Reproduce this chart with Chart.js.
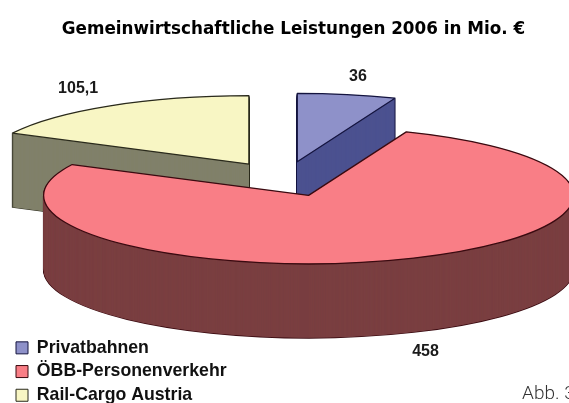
<!DOCTYPE html>
<html><head><meta charset="utf-8">
<style>html,body{margin:0;padding:0;background:#fff;overflow:hidden}#w{width:569px;height:403px;position:relative}</style>
<script src="https://cdn.jsdelivr.net/npm/chart.js@4/dist/chart.umd.min.js"></script>
</head><body><div id="w"><canvas id="c" width="569" height="403"></canvas></div>
<script>
const titleText = 'Gemeinwirtschaftliche Leistungen 2006 in Mio. €';
const categories = ['Privatbahnen', 'ÖBB-Personenverkehr', 'Rail-Cargo Austria'];
const values = [36, 458, 105.1];
const valueLabels = ['36', '458', '105,1'];
const topColors = ['#8E91C9', '#F97E86', '#F8F6C4'];
const sideColors = ['#4C5290', '#7A3F41', '#80806A'];
const edgeColors = ['#14143F', '#3A0A10', '#2A2A1C'];
const footnote = 'Abb. 3';

const pie3d = {
  id: 'pie3d',
  beforeDraw(chart) {
    const l = chart.legend;
    l.left = 10; l.top = 333; l.bottom = 460;
  },
  beforeDatasetDraw(chart, args) {
    const ctx = chart.ctx, arcs = chart.getDatasetMeta(0).data;
    const R = 265, K = 0.258, CX = 284.5, CY = 179, D = 68, DEPTH = 74;
    const sx = R / arcs[0].outerRadius, sy = sx * K;
    const drawOrder = [0, 2, 1];
    const project = (a, dy) => {
      ctx.translate(CX - a.x * sx, CY + dy - a.y * sy);
      ctx.scale(sx, sy);
      const mid = (a.startAngle + a.endAngle) / 2;
      ctx.translate(Math.cos(mid) * D / sx, Math.sin(mid) * D / sx);
    };
    const strokeArc = (a, dy, color, w) => {
      ctx.save(); project(a, dy);
      ctx.beginPath(); ctx.moveTo(a.x, a.y);
      ctx.arc(a.x, a.y, a.outerRadius, a.startAngle, a.endAngle);
      ctx.closePath(); ctx.restore();
      ctx.strokeStyle = color; ctx.lineWidth = w; ctx.lineJoin = 'round'; ctx.stroke();
    };
    const fillArc = (a, dy, color) => {
      const o = a.options, bg = o.backgroundColor, bw = o.borderWidth;
      o.backgroundColor = color; o.borderWidth = 0;
      ctx.save(); project(a, dy); a.draw(ctx); ctx.restore();
      o.backgroundColor = bg; o.borderWidth = bw;
    };
    for (const i of drawOrder) {
      const a = arcs[i];
      for (let d = DEPTH; d > 0; d -= 1) strokeArc(a, d, edgeColors[i], 1.4);
      for (let d = DEPTH; d > 0; d -= 0.5) fillArc(a, d, sideColors[i]);
      fillArc(a, 0, topColors[i]);
      strokeArc(a, 0, edgeColors[i], 1.3);
    }
    ctx.save();
    ctx.font = 'bold 16px "Liberation Sans"';
    ctx.fillStyle = '#1a1a1a'; ctx.textAlign = 'center'; ctx.textBaseline = 'middle';
    const labelShift = [[11, -18, 0], [23, 18, DEPTH], [-32, -17, 0]];
    arcs.forEach((a, i) => {
      const mid = (a.startAngle + a.endAngle) / 2;
      const x = CX + Math.cos(mid) * (D + R) + labelShift[i][0];
      const y = CY + Math.sin(mid) * (D + R) * K + labelShift[i][1] + labelShift[i][2];
      ctx.fillText(valueLabels[i], x, y);
    });
    ctx.font = '300 19px Roboto';
    ctx.fillStyle = '#333'; ctx.textAlign = 'left';
    ctx.fillText(footnote, 522, 394);
    ctx.restore();
    return false;
  }
};

new Chart(document.getElementById('c'), {
  type: 'pie',
  plugins: [pie3d],
  data: { labels: categories, datasets: [{
    data: values,
    backgroundColor: topColors,
    borderColor: edgeColors,
    borderWidth: 1
  }]},
  options: {
    responsive: false,
    animation: false,
    layout: { padding: { left: 18, top: 0, right: 0, bottom: 0 } },
    plugins: {
      tooltip: { enabled: false },
      title: {
        display: true, text: titleText, color: '#000',
        font: { family: '"DejaVu Sans"', size: 16.8, weight: 'bold' },
        padding: { top: 20, bottom: 10 }
      },
      legend: {
        position: 'left', align: 'start',
        labels: {
          color: '#111', boxWidth: 12, boxHeight: 12, padding: 6,
          font: { family: '"Liberation Sans"', size: 17.7, weight: 'bold' }
        }
      }
    }
  }
});
</script></body></html>
